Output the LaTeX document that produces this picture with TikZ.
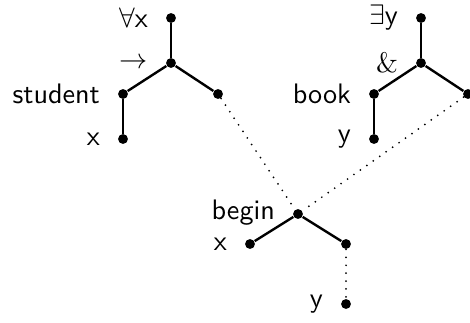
\documentclass[tikz,border=0pt]{standalone}
\begin{document}
\begin{tikzpicture}[x=0.355pt,y=-0.355pt,
  dot/.style={circle,fill=black,inner sep=0pt,minimum size=3.5pt},
  edge/.style={line width=0.85pt},
  dotline/.style={line width=0.7pt,line cap=round,dash pattern=on 0pt off 2.8pt},
  lab/.style={anchor=east,inner sep=0pt,font=\sffamily}]
\useasboundingbox (0,0) rectangle (470,322);
% left tree
\node[dot] (fa) at (171,18) {};
\node[dot] (imp) at (171,63) {};
\node[dot] (st) at (123,94) {};
\node[dot] (lr) at (218,94) {};
\node[dot] (lx) at (123,139) {};
% right tree
\node[dot] (ex) at (421,18) {};
\node[dot] (and) at (421,63) {};
\node[dot] (bk) at (374,94) {};
\node[dot] (rr) at (468,94) {};
\node[dot] (ry) at (374,139) {};
% begin
\node[dot] (bg) at (298,214) {};
\node[dot] (bx) at (250,244) {};
\node[dot] (br) at (346,244) {};
\node[dot] (by) at (346,304) {};
% labels
\node[lab] (tfa) at ([xshift=-8pt]fa.center) {$\forall$x};
\node[lab] (timp) at ([xshift=-8pt]imp.center) {$\rightarrow$};
\node[lab] (tst) at ([xshift=-8pt]st.center) {student};
\node[lab] (tlx) at ([xshift=-8pt]lx.center) {x};
\node[lab] (tex) at ([xshift=-8pt]ex.center) {$\exists$y};
\node[lab] (tand) at ([xshift=-8pt]and.center) {\rmfamily\&};
\node[lab] (tbk) at ([xshift=-8pt]bk.center) {book};
\node[lab] (try) at ([xshift=-8pt]ry.center) {y};
\node[lab] (tbg) at ([xshift=-8pt,yshift=0.5pt]bg.center) {begin};
\node[lab] (tbx) at ([xshift=-8pt]bx.center) {x};
\node[lab] (tby) at ([xshift=-8pt]by.center) {y};
% edges
\draw[edge] (fa) -- (imp);
\draw[edge] (imp) -- (st);
\draw[edge] (imp) -- (lr);
\draw[edge] (st) -- (lx);
\draw[edge] (ex) -- (and);
\draw[edge] (and) -- (bk);
\draw[edge] (and) -- (rr);
\draw[edge] (bk) -- (ry);
\draw[edge] (bg) -- (bx);
\draw[edge] (bg) -- (br);
% dotted
\draw[dotline] (lr) -- (bg);
\draw[dotline] (rr) -- (bg);
\draw[dotline] (br) -- (by);
\end{tikzpicture}
\end{document}
